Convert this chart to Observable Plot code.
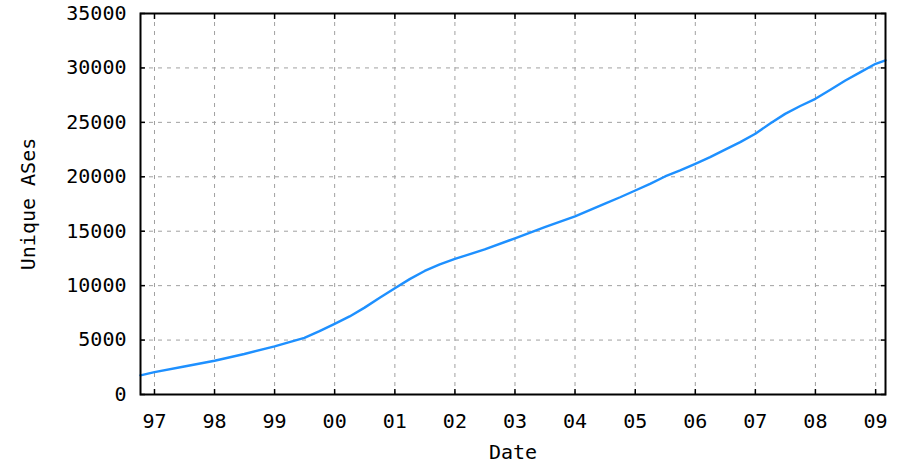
<!DOCTYPE html>
<html>
<head>
<meta charset="utf-8">
<script src="https://cdn.jsdelivr.net/npm/d3@7"></script>
<script src="https://cdn.jsdelivr.net/npm/@observablehq/plot@0.6"></script>
<style>
  html, body { margin: 0; padding: 0; background: #fff; }
  #chart svg { display: block; }
</style>
</head>
<body>
<div id="chart"></div>
<script>
// Data
const dates = ["1996-10-08","1997-01-01","1997-07-01","1998-01-01","1998-07-01","1999-01-01","1999-04-01","1999-07-01","1999-10-01",
  "2000-01-01","2000-04-01","2000-07-01","2000-10-01","2001-01-01","2001-04-01","2001-07-01","2001-10-01",
  "2002-01-01","2002-07-01","2003-01-01","2003-07-01","2004-01-01","2004-07-01","2004-10-01",
  "2005-01-01","2005-04-01","2005-07-01","2005-10-01","2006-01-01","2006-04-01","2006-07-01","2006-10-01",
  "2007-01-01","2007-04-01","2007-07-01","2007-10-01","2008-01-01","2008-04-01","2008-07-01","2008-10-01",
  "2009-01-01","2009-03-02"];
const uniqueASes = [1760,2050,2570,3100,3720,4420,4810,5210,5820,
  6490,7170,7980,8880,9760,10600,11350,11950,
  12450,13330,14350,15370,16370,17540,18120,
  18740,19350,20030,20580,21190,21800,22500,23180,
  23950,24900,25780,26500,27160,27990,28840,29610,
  30380,30700];

const xTickDates = ["1997-01-01","1998-01-01","1999-01-01","2000-01-01","2001-01-01","2002-01-01","2003-01-01",
  "2004-01-01","2005-01-01","2006-01-01","2007-01-01","2008-01-01","2009-01-01"];
const xTickLabels = ["97","98","99","00","01","02","03","04","05","06","07","08","09"];
const yTicks = [0,5000,10000,15000,20000,25000,30000,35000];
const xDomain = ["1996-10-08","2009-03-02"];
const yDomain = [0,35000];
const xLabel = "Date";
const yLabel = "Unique ASes";

const parse = d3.utcParse("%Y-%m-%d");
const data = dates.map((d, i) => ({date: parse(d), value: uniqueASes[i]}));
const xTicks = xTickDates.map(parse);
const labelOf = new Map(xTicks.map((d, i) => [+d, xTickLabels[i]]));

const gridStyle = {stroke: "#a0a0a0", strokeOpacity: 1, strokeWidth: 1, strokeDasharray: "4,5"};

const chart = Plot.plot({
  width: 905,
  height: 474,
  marginLeft: 140,
  marginRight: 20,
  marginTop: 13,
  marginBottom: 80,
  style: {fontFamily: "'DejaVu Sans Mono', monospace", fontSize: "20px", background: "#fff", color: "#000"},
  x: {type: "utc", domain: xDomain.map(parse)},
  y: {domain: yDomain},
  marks: [
    Plot.gridX(xTicks, gridStyle),
    Plot.gridY(yTicks, gridStyle),
    Plot.line(data, {x: "date", y: "value", stroke: "#1e90ff", strokeWidth: 2.4}),
    // inward ticks on all four sides
    Plot.axisX(xTicks, {anchor: "bottom", tickSize: -5, fill: "none", label: null, strokeWidth: 1.5}),
    Plot.axisX(xTicks, {anchor: "top", tickSize: -5, fill: "none", label: null, strokeWidth: 1.5}),
    Plot.axisY(yTicks, {anchor: "left", tickSize: -5, fill: "none", label: null, strokeWidth: 1.5}),
    Plot.axisY(yTicks, {anchor: "right", tickSize: -5, fill: "none", label: null, strokeWidth: 1.5}),
    // tick labels
    Plot.axisX(xTicks, {anchor: "bottom", tickSize: 0, tickPadding: 19, label: null,
      tickFormat: d => labelOf.get(+d), fontSize: 20}),
    Plot.axisY(yTicks, {anchor: "left", tickSize: 0, tickPadding: 14, label: null,
      tickFormat: "d", fontSize: 20}),
    // axis titles
    Plot.text([xLabel], {frameAnchor: "bottom", dy: 64, fontSize: 20, fill: "#000"}),
    Plot.text([yLabel], {frameAnchor: "left", textAnchor: "middle", dx: -112, rotate: -90, fontSize: 20, fill: "#000"}),
    Plot.frame({stroke: "#000", strokeWidth: 2})
  ]
});
document.getElementById("chart").appendChild(chart);
</script>
</body>
</html>
